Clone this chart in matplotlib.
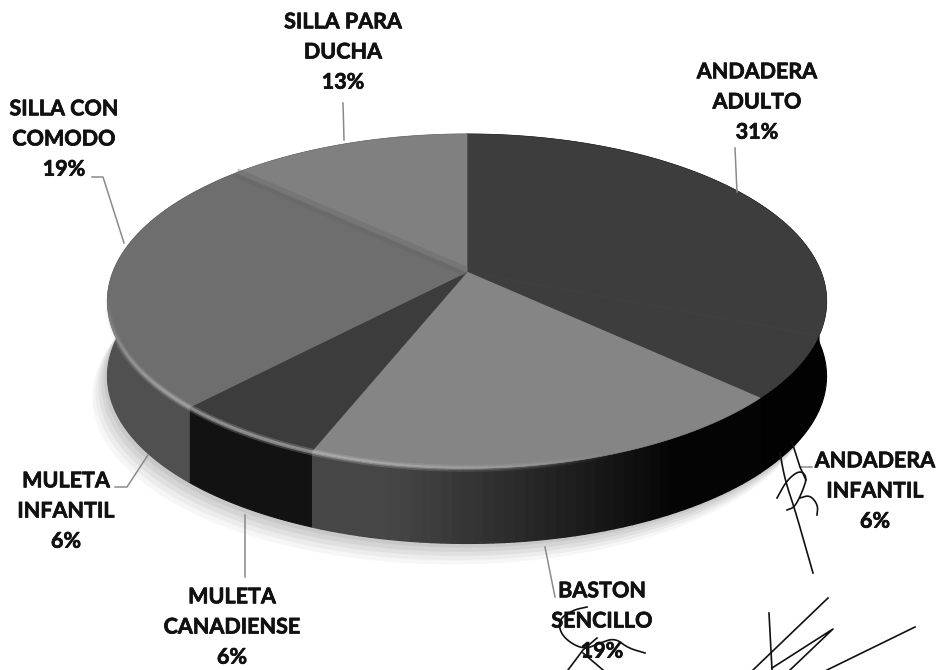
import numpy as np
import matplotlib
matplotlib.use("Agg")
import matplotlib.pyplot as plt
import matplotlib.patheffects as pe
from matplotlib.colors import to_rgb

categories = ["ANDADERA\nADULTO", "ANDADERA\nINFANTIL", "BASTON\nSENCILLO", "MULETA\nCANADIENSE",
              "MULETA\nINFANTIL", "SILLA CON\nCOMODO", "SILLA PARA\nDUCHA"]
values = [31, 6, 19, 6, 6, 19, 13]
top_colors = ["#3d3d3d", "#3d3d3d", "#858585", "#3c3c3c", "#6e6e6e", "#6e6e6e", "#808080"]
side_colors = ["#020202", "#020202", "#383838", "#121212", "#505050", "#505050", "#505050"]

label_pos = [(757, 102), (875, 491), (602, 621), (232, 627), (66, 511), (64, 139), (343, 52)]
leaders = [[(735, 148), (737, 192)], [(812, 467), (800, 467)], [(555, 597), (545, 547)],
           [(245, 577), (245, 515)], [(115, 487), (127, 487), (148, 455)],
           [(92, 177), (103, 177), (124, 243)], [(343, 103), (344, 140)]]

# projection of the pie disc
CX, CY, A, B, K, DEPTH = 467, 272, 354, 162, 0.175, 75


def project(theta):
    u, v = np.sin(theta), np.cos(theta)
    d = 1 + K * v
    return CX + A * u / d, CY - B * v / d


def smooth(pts, n=3):
    p = np.array(pts, dtype=float)
    for _ in range(n):
        q = np.empty((2 * len(p), 2))
        q[0::2] = 0.75 * p + 0.25 * np.roll(p, -1, axis=0)
        q[1::2] = 0.25 * p + 0.75 * np.roll(p, -1, axis=0)
        p = np.vstack([p[:1], q[:-2], p[-1:]])
    return p


fig = plt.figure(figsize=(9.37, 6.70), dpi=100)
ax = fig.add_axes([0, 0, 1, 1])
ax.set_xlim(0, 937)
ax.set_ylim(670, 0)
ax.axis("off")

# soft shadow under the pie
t = np.linspace(0, 2 * np.pi, 300)
sx0, sy0 = project(t)
for grow, alpha in zip([30, 24, 18, 12, 6], [0.07, 0.08, 0.10, 0.12, 0.14]):
    ax.fill(sx0 - grow * 0.5, sy0 + DEPTH + grow * 0.7, color="#808080", alpha=alpha, lw=0, zorder=1)

edges = np.cumsum([0] + values) / sum(values) * 2 * np.pi

# side wall
for i, col in enumerate(side_colors):
    base = np.array(to_rgb(col))
    if i == 2:
        # this slice fades from grey to black going right
        ts = np.linspace(edges[i], edges[i + 1], 50)
        for a, b in zip(ts[:-1], ts[1:]):
            xa, ya = project(a)
            xb, yb = project(b)
            frac = ((a + b) / 2 - edges[i]) / (edges[i + 1] - edges[i])
            c = base * np.clip(0.08 + 2.0 * (frac - 0.25), 0.08, 1.25)
            c = np.clip(c, 0, 1)
            ax.fill([xa, xb, xb, xa], [ya, yb, yb + DEPTH, ya + DEPTH], color=c, lw=1.0, ec=c, zorder=2)
    else:
        ts = np.linspace(edges[i], edges[i + 1], 80)
        x, y = project(ts)
        ax.fill(np.r_[x, x[::-1]], np.r_[y, y[::-1] + DEPTH], color=col, lw=0.8, ec=col, zorder=2)

# top face
for i, col in enumerate(top_colors):
    ts = np.linspace(edges[i], edges[i + 1], 80)
    x, y = project(ts)
    ax.fill(np.r_[CX, x], np.r_[CY, y], color=col, lw=0.5, ec=col, zorder=3)

# faint seam between the two left slices
sx, sy = project(edges[6])
ax.plot([CX, sx], [CY, sy], color="#646464", lw=7, alpha=0.35, zorder=3.5, solid_capstyle="butt")

# bevel highlight on the front-left rim
ts = np.linspace(edges[2] + 0.45, edges[5] + 0.3, 120)
hx, hy = project(ts)
for width, strength in zip([5, 2.5], [0.25, 0.5]):
    for a, b, c, d, t0 in zip(hx[:-1], hy[:-1], hx[1:], hy[1:], ts[:-1]):
        fade = np.sin((t0 - ts[0]) / (ts[-1] - ts[0]) * np.pi)
        ax.plot([a, c], [b, d], color="#c4c4c4", lw=width, alpha=strength * fade, zorder=4, solid_capstyle="butt")

# leader lines
for pts in leaders:
    xs, ys = zip(*pts)
    ax.plot(xs, ys, color="#8a8a8a", lw=1.1, zorder=5)

# labels
for cat, val, (lx, ly) in zip(categories, values, label_pos):
    ax.text(lx, ly, f"{cat}\n{val}%", ha="center", va="center", family="Lato", weight="bold",
            fontsize=15.5, color="#111111", linespacing=1.54, zorder=6,
            path_effects=[pe.withStroke(linewidth=0.5, foreground="#111111")])

# handwritten signatures on the scanned page
ink = [
    [(780, 453), (785, 480), (795, 510), (805, 545), (813, 573)],
    [(792, 442), (800, 467), (806, 480)],
    [(777, 498), (787, 480), (800, 470), (807, 477), (803, 490), (795, 507), (787, 510)],
    [(800, 498), (810, 495), (818, 505), (817, 515)],
    [(645, 653), (628, 648), (615, 638), (600, 643), (583, 650), (562, 637), (558, 620), (573, 610), (587, 607)],
    [(568, 670), (583, 650), (597, 638)],
    [(603, 670), (583, 653)],
    [(753, 670), (828, 598)],
    [(769, 613), (772, 670)],
    [(772, 668), (833, 629), (790, 670)],
    [(827, 670), (915, 627)],
]
for stroke in ink:
    pts = smooth(stroke) if len(stroke) > 3 else np.array(stroke, dtype=float)
    ax.plot(pts[:, 0], pts[:, 1], color="#111111", lw=1.2, zorder=7)

fig.savefig("out.png", dpi=100)
